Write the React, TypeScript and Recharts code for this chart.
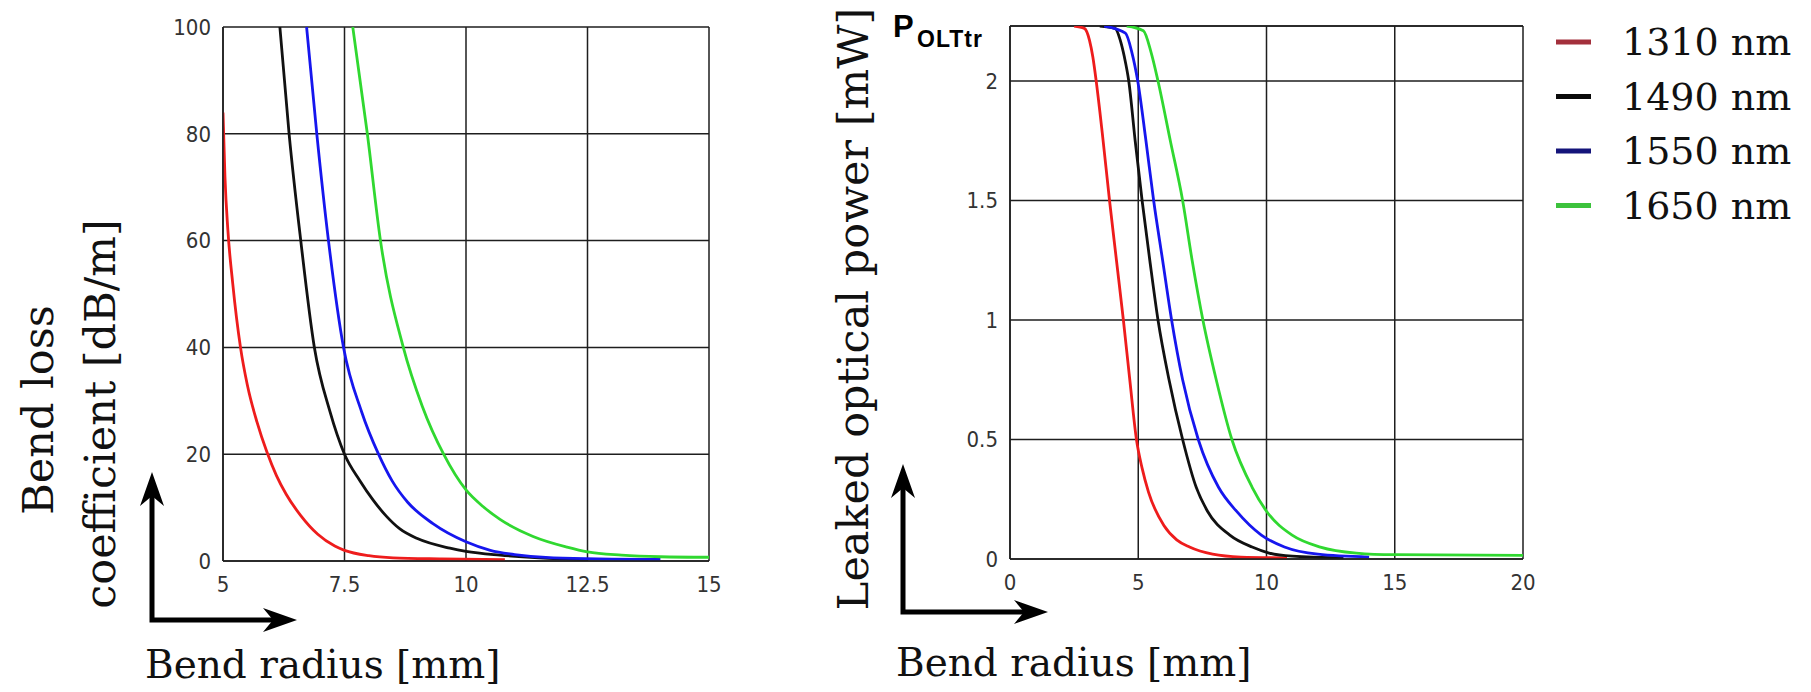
import { CartesianGrid, Line, LineChart, ReferenceLine, XAxis, YAxis } from "recharts";

type Pt = { r: number; v: number };
const pts = (rows: number[][]): Pt[] => rows.map(([r, v]) => ({ r, v }));

// left panel: bend loss coefficient [dB/m] vs bend radius [mm]
const LOSS_1310 = pts([
  [5, 84], [5.04, 72], [5.1, 62], [5.2, 52], [5.36, 40], [5.5, 33], [5.7, 26], [5.9, 20.5],
  [6.1, 16], [6.3, 12.5], [6.6, 8.5], [6.95, 5], [7.3, 2.8], [7.5, 2], [8, 1],
  [8.5, 0.6], [9.5, 0.4], [10.8, 0.25],
]);
const LOSS_1490 = pts([
  [6.17, 100], [6.36, 80], [6.6, 60], [6.88, 40], [7.2, 28], [7.5, 20], [7.82, 15],
  [8.09, 11.4], [8.36, 8.4], [8.64, 6], [9, 4.2], [9.67, 2.4], [10, 1.8], [10.7, 1.1],
  [11.5, 0.6], [12.5, 0.3],
]);
const LOSS_1550 = pts([
  [6.72, 100], [6.93, 80], [7.17, 60], [7.48, 40], [7.85, 28], [8.2, 20], [8.48, 15],
  [8.8, 11], [9.32, 7], [10, 3.6], [10.5, 2], [11, 1.2], [11.8, 0.6], [14, 0.3],
]);
const LOSS_1650 = pts([
  [7.67, 100], [7.97, 80], [8.24, 60], [8.71, 40], [9.1, 29], [9.54, 20], [10, 13.3],
  [10.35, 10.2], [10.7, 7.8], [11.38, 4.6], [12.08, 2.6], [12.5, 1.7], [13.2, 1.1], [14, 0.8],
  [15, 0.7],
]);

// right panel: leaked optical power [mW] vs bend radius [mm]
const POWER_1310 = pts([
  [2.5, 2.23], [2.9, 2.22], [3.1, 2.17], [3.23, 2.1], [3.36, 2], [3.6, 1.78], [3.88, 1.5],
  [4.15, 1.25], [4.42, 1], [4.67, 0.75], [4.93, 0.5], [5.15, 0.38], [5.4, 0.28], [6, 0.14],
  [6.5, 0.08], [7, 0.05], [7.9, 0.02], [9, 0.008], [10.8, 0.005],
]);
const POWER_1490 = pts([
  [3.5, 2.23], [4.1, 2.22], [4.3, 2.17], [4.46, 2.1], [4.63, 2], [4.88, 1.75], [5.15, 1.5],
  [5.45, 1.25], [5.77, 1], [6.2, 0.75], [6.73, 0.5], [7.26, 0.3], [7.7, 0.2], [8.57, 0.1],
  [9.44, 0.05], [10.1, 0.025], [11, 0.012], [13, 0.005],
]);
const POWER_1550 = pts([
  [3.67, 2.23], [4.5, 2.2], [4.75, 2.12], [4.98, 2], [5.3, 1.75], [5.6, 1.5], [5.95, 1.25],
  [6.3, 1], [6.73, 0.75], [7.34, 0.5], [8.13, 0.3], [8.83, 0.2], [9.8, 0.1], [10.7, 0.05],
  [12, 0.02], [14, 0.008],
]);
const POWER_1650 = pts([
  [4.55, 2.23], [5.2, 2.21], [5.5, 2.12], [5.77, 2], [6.25, 1.75], [6.73, 1.5], [7.1, 1.25],
  [7.52, 1], [8.04, 0.75], [8.65, 0.5], [9.44, 0.3], [10, 0.2], [11, 0.1], [12.1, 0.05],
  [13.5, 0.025], [15, 0.018], [20, 0.015],
]);

const LEFT_X_TICKS = [5, 7.5, 10, 12.5, 15];
const LEFT_Y_TICKS = [0, 20, 40, 60, 80, 100];
const RIGHT_X_TICKS = [0, 5, 10, 15, 20];
const RIGHT_Y_TICKS = [0, 0.5, 1, 1.5, 2];
const P_MAX = 2.23;

const WAVELENGTHS = ["1310 nm", "1490 nm", "1550 nm", "1650 nm"];
const CURVE_COLORS = ["#ee1c1c", "#111111", "#1616ee", "#30d830"];
const LEGEND_COLORS = ["#a3303c", "#0a0a0a", "#14147a", "#3cc23c"];
const LOSS_SERIES = [LOSS_1310, LOSS_1490, LOSS_1550, LOSS_1650];
const POWER_SERIES = [POWER_1310, POWER_1490, POWER_1550, POWER_1650];

const GRID = "#1e1e1e";
const TICK = { fill: "#333", fontSize: 22, fontFamily: "'Liberation Sans Narrow', 'DejaVu Sans Condensed', 'Liberation Sans', sans-serif" };
const SERIF = "'DejaVu Serif', serif";
const AXIS_LINE = { stroke: GRID, strokeWidth: 1.5 };

function Arrow({ x, y, w, h }: { x: number; y: number; w: number; h: number }) {
  // corner at (x, y), arrow going up by h and right by w
  return (
    <g>
      <path d={`M${x},${y - h + 20} L${x},${y} L${x + w - 20},${y}`} stroke="#000" strokeWidth={5} fill="none" />
      <path d={`M${x},${y - h} L${x - 12},${y - h + 34} L${x},${y - h + 24} L${x + 12},${y - h + 34} Z`} fill="#000" />
      <path d={`M${x + w},${y} L${x + w - 34},${y - 12} L${x + w - 24},${y} L${x + w - 34},${y + 12} Z`} fill="#000" />
    </g>
  );
}

export default function App() {
  return (
    <div style={{ position: "absolute", left: 0, top: 0, width: 1811, height: 692, background: "#fff" }}>
      <div style={{ position: "absolute", left: 0, top: 0 }}>
        <LineChart width={760} height={692} margin={{ top: 27, right: 51, bottom: 91, left: 173 }}>
          <CartesianGrid stroke={GRID} strokeWidth={1.5} />
          <XAxis
            dataKey="r"
            type="number"
            domain={[5, 15]}
            ticks={LEFT_X_TICKS}
            height={40}
            tickSize={0}
            tickMargin={15}
            axisLine={AXIS_LINE}
            tick={TICK}
            allowDataOverflow
          />
          <YAxis
            type="number"
            domain={[0, 100]}
            ticks={LEFT_Y_TICKS}
            width={50}
            tickSize={0}
            tickMargin={12}
            axisLine={AXIS_LINE}
            tick={TICK}
            allowDataOverflow
          />
          {LOSS_SERIES.map((d, i) => (
            <Line
              key={WAVELENGTHS[i]}
              data={d}
              dataKey="v"
              type="monotone"
              stroke={CURVE_COLORS[i]}
              strokeWidth={2.8}
              dot={false}
              isAnimationActive={false}
            />
          ))}
        </LineChart>
      </div>

      <div style={{ position: "absolute", left: 770, top: 0 }}>
        <LineChart width={1041} height={692} margin={{ top: 26, right: 288, bottom: 93, left: 190 }}>
          <CartesianGrid stroke={GRID} strokeWidth={1.5} />
          <ReferenceLine y={P_MAX} stroke={GRID} strokeWidth={1.5} />
          <XAxis
            dataKey="r"
            type="number"
            domain={[0, 20]}
            ticks={RIGHT_X_TICKS}
            height={40}
            tickSize={0}
            tickMargin={15}
            axisLine={AXIS_LINE}
            tick={TICK}
            allowDataOverflow
          />
          <YAxis
            type="number"
            domain={[0, P_MAX]}
            ticks={RIGHT_Y_TICKS}
            width={50}
            tickSize={0}
            tickMargin={12}
            axisLine={AXIS_LINE}
            tick={TICK}
            allowDataOverflow
          />
          {POWER_SERIES.map((d, i) => (
            <Line
              key={WAVELENGTHS[i]}
              data={d}
              dataKey="v"
              type="monotone"
              stroke={CURVE_COLORS[i]}
              strokeWidth={2.8}
              dot={false}
              isAnimationActive={false}
            />
          ))}
        </LineChart>
      </div>

      <svg width={1811} height={692} style={{ position: "absolute", left: 0, top: 0, pointerEvents: "none" }}>
        <g fontFamily={SERIF} fontSize={43} fill="#111">
          <text transform="translate(53,410) rotate(-90)" textAnchor="middle">Bend loss</text>
          <text transform="translate(115,414) rotate(-90)" textAnchor="middle">coefficient [dB/m]</text>
          <text transform="translate(868,309) rotate(-90)" textAnchor="middle">Leaked optical power [mW]</text>
          <text x={145} y={678} fontSize={39}>Bend radius [mm]</text>
          <text x={896} y={676} fontSize={39}>Bend radius [mm]</text>
        </g>
        <text x={893} y={37} fontFamily="'Liberation Sans', Arial, sans-serif" fontWeight="bold" fontSize={31} fill="#000">
          P
          <tspan x={917} y={47} fontSize={23} letterSpacing={1}>OLTtr</tspan>
        </text>
        <Arrow x={152} y={620} w={145} h={148} />
        <Arrow x={903} y={612} w={145} h={148} />
        <g fontFamily={SERIF} fontSize={38} fill="#111">
          {WAVELENGTHS.map((name, i) => (
            <g key={name}>
              <line x1={1556} x2={1591} y1={42 + i * 54.5} y2={42 + i * 54.5} stroke={LEGEND_COLORS[i]} strokeWidth={5} />
              <text x={1622} y={55 + i * 54.5}>{name}</text>
            </g>
          ))}
        </g>
      </svg>
    </div>
  );
}
